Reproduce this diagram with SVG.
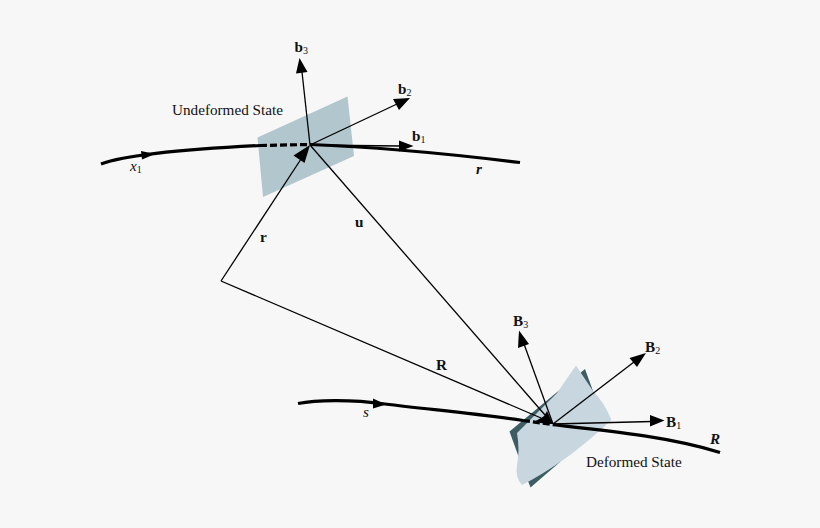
<svg xmlns="http://www.w3.org/2000/svg" width="820" height="528" viewBox="0 0 820 528">
<style>
text{font-family:"Liberation Serif","Times New Roman",serif;font-size:15.2px;fill:#111}
.b{font-weight:bold}
.i{font-style:italic}
.s{font-size:10px;font-weight:normal;font-style:normal}
.v{fill:none;stroke:#000;stroke-width:1.3}
.c{fill:none;stroke:#000;stroke-width:3.2}
.h{fill:#000;stroke:none}
</style>
<rect width="820" height="528" fill="#f7f7f7"/>
<g id="plane-undeformed"><polygon points="257.5,137.5 347.5,96.5 354,156 263,197" fill="#b2c6ce"/></g>
<g id="plane-deformed">
<polygon points="509.5,431.5 585,369 593,391 560,462 530.5,487.5 518,455" fill="#3d5d63"/>
<path d="M576,365.5 L593,391 Q604,402 611.5,420 L597,433 Q575,452 563,460 Q540,476 522,485 Q515,478 517,465 Q520,450 517,433 L530,420 Q545,405 557,393 Z" fill="#c8d7df"/>
</g>
<g id="connectors">
<path class="c" d="M101,164 C120,157 170,150 260,145.5"/>
<path class="c" stroke-dasharray="7 3" d="M260,145.5 L310,144.5"/>
<path class="c" d="M310,144.5 C380,147 450,154 520,162.5"/>
<path class="c" d="M298,403.5 C315,400 350,399 385,404 C430,409.5 480,414 523,420.5"/>
<path class="c" stroke-dasharray="7 3" d="M523,420.5 L556,425"/>
<path class="c" d="M556,425 C610,431 670,437 720,452.5"/>
<path class="v" d="M310,145 L302,72"/>
<path class="v" d="M310,145 L397,104"/>
<path class="v" d="M310,145 L400,146"/>
<path class="v" d="M221,281 L303,156"/>
<path class="v" d="M310,145 L545,415"/>
<path class="v" d="M221,281 L541,418"/>
<path class="v" d="M553,424 L524,344"/>
<path class="v" d="M553,424 L634,362"/>
<path class="v" d="M553,424 L652,421.5"/>
<polygon class="h" points="299.5,58 307.5,72 296,73.5"/>
<polygon class="h" points="410,98 399,110 393,99"/>
<polygon class="h" points="413.5,146 399,151.5 399,140.5"/>
<polygon class="h" points="155,154 142,159.5 141,151"/>
<polygon class="h" points="310,145 304.5,163 293.5,155.5"/>
<polygon class="h" points="519,330.5 529,344 518,348"/>
<polygon class="h" points="646,353 637,367 629.5,358"/>
<polygon class="h" points="664.5,420.5 650,426.5 650,415"/>
<polygon class="h" points="386,404.5 373,398.5 373,408.5"/>
<polygon class="h" points="553,424 534,422 546,415"/>
<polygon class="h" points="553,424 540,423 547,411"/>
</g>
<g id="labels">
<text x="172" y="115">Undeformed State</text>
<text x="586" y="467">Deformed State</text>
<text class="b" x="294.5" y="52">b<tspan class="s" dy="2">3</tspan></text>
<text class="b" x="398" y="94">b<tspan class="s" dy="2">2</tspan></text>
<text class="b" x="412" y="141">b<tspan class="s" dy="2">1</tspan></text>
<text class="i" x="130" y="171">x<tspan class="s" dy="2">1</tspan></text>
<text class="i b" x="476" y="174">r</text>
<text class="b" x="260" y="242">r</text>
<text class="b" x="355" y="227">u</text>
<text class="b" x="436" y="370">R</text>
<text class="b" x="513" y="326">B<tspan class="s" dy="2">3</tspan></text>
<text class="b" x="645" y="352">B<tspan class="s" dy="2">2</tspan></text>
<text class="b" x="666" y="427">B<tspan class="s" dy="2">1</tspan></text>
<text class="i b" x="710" y="444">R</text>
<text class="i" x="363" y="417">s</text>
</g>
</svg>
